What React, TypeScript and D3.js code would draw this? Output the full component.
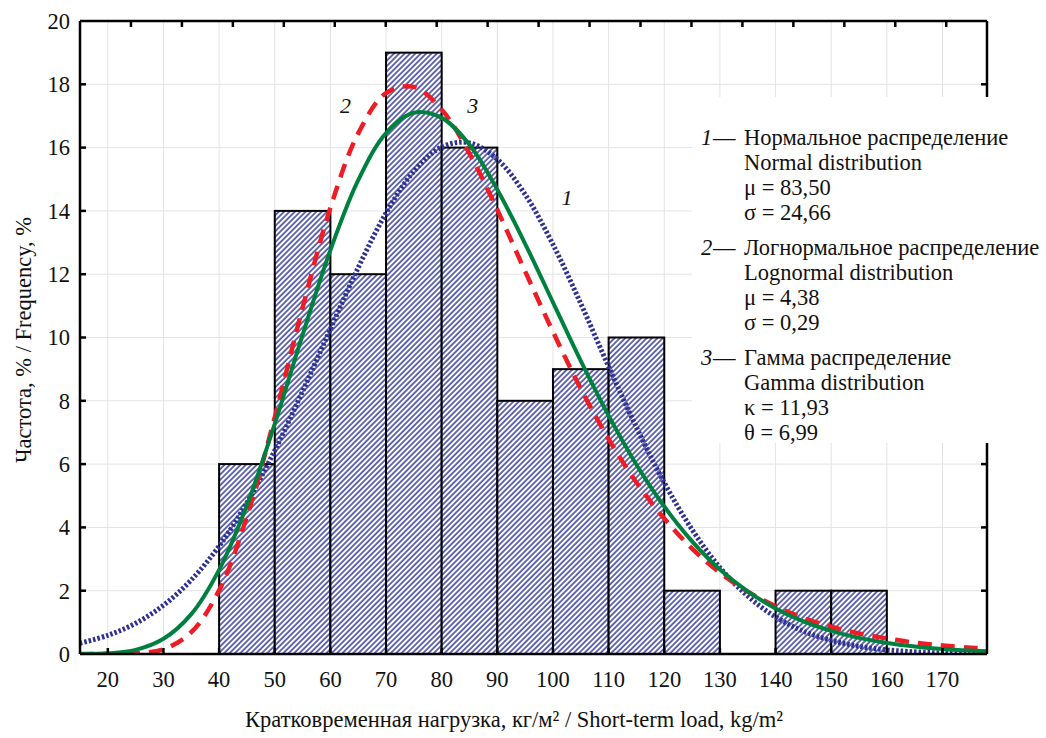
import React, { useEffect, useRef } from "react";
import { select, scaleLinear, line, curveCatmullRom } from "d3";

// histogram bins (% of observations per 10 kg/m2 bin)
const binStarts = [40, 50, 60, 70, 80, 90, 100, 110, 120, 130, 140, 150];
const binWidth = 10;
const frequency = [6, 14, 12, 19, 16, 8, 9, 10, 2, 0, 2, 2];

// fitted curves
const curveX = [
  15, 20, 25, 30, 35, 40, 45, 50, 55, 60, 65, 70, 75, 80, 85, 90, 95, 100, 105,
  110, 115, 120, 125, 130, 135, 140, 145, 150, 155, 160, 165, 170, 175, 178,
];
const normalY = [
  0.34, 0.59, 0.97, 1.54, 2.34, 3.41, 4.78, 6.43, 8.3, 10.27, 12.21, 13.93,
  15.25, 16.02, 16.15, 15.63, 14.52, 12.94, 11.07, 9.08, 7.16, 5.41, 3.93, 2.73,
  1.83, 1.17, 0.72, 0.43, 0.24, 0.13, 0.07, 0.03, 0.02, 0.01,
];
const lognormalY = [
  0, 0.0, 0.02, 0.15, 0.69, 2.01, 4.34, 7.48, 10.94, 14.1, 16.45, 17.72, 17.92,
  17.2, 15.81, 14.03, 12.09, 10.18, 8.38, 6.79, 5.42, 4.28, 3.33, 2.57, 1.97,
  1.51, 1.14, 0.86, 0.65, 0.49, 0.36, 0.27, 0.2, 0.17,
];
const gammaY = [
  0.0, 0.02, 0.13, 0.48, 1.26, 2.66, 4.7, 7.27, 10.08, 12.76, 14.97, 16.46,
  17.1, 16.94, 16.09, 14.67, 12.96, 11.11, 9.26, 7.53, 5.98, 4.66, 3.56, 2.67,
  1.98, 1.44, 1.03, 0.73, 0.51, 0.35, 0.24, 0.16, 0.11, 0.09,
];

const xTicks = [20, 30, 40, 50, 60, 70, 80, 90, 100, 110, 120, 130, 140, 150, 160, 170];
const yTicks = [0, 2, 4, 6, 8, 10, 12, 14, 16, 18, 20];
const topTicks = [10, 20, 30, 40, 50, 60, 70, 80, 90, 100, 110, 120, 130, 140, 150, 160, 170];

const curveLabels = [
  { text: "1", x: 102.5, y: 14.2 },
  { text: "2", x: 62.7, y: 17.1 },
  { text: "3", x: 85.6, y: 17.1 },
];

const legendNums = ["1", "2", "3"];
const legendRu = [
  "Нормальное распределение",
  "Логнормальное распределение",
  "Гамма распределение",
];
const legendEn = ["Normal distribution", "Lognormal distribution", "Gamma distribution"];
const legendParams = [
  ["μ = 83,50", "σ = 24,66"],
  ["μ = 4,38", "σ = 0,29"],
  ["κ = 11,93", "θ = 6,99"],
];

const FONT = "Liberation Serif, Times New Roman, Times, serif";

const App = () => {
  const chartRef = useRef<SVGSVGElement>(null);

  useEffect(() => {
    if (!chartRef.current) return;
    const svg = select(chartRef.current);
    svg.selectAll("*").remove();

    const left = 80;
    const right = 987;
    const top = 21;
    const bottom = 654;

    const x = scaleLinear().domain([15, 178]).range([left, right]);
    const y = scaleLinear().domain([0, 20]).range([bottom, top]);
    // the frame's top ticks follow their own spacing
    const xTop = scaleLinear().domain([0, 178]).range([left, right]);

    const defs = svg.append("defs");
    const pat = defs
      .append("pattern")
      .attr("id", "hatch")
      .attr("patternUnits", "userSpaceOnUse")
      .attr("width", 3.8)
      .attr("height", 3.8)
      .attr("patternTransform", "rotate(45)");
    pat.append("rect").attr("width", 3.8).attr("height", 3.8).attr("fill", "#ffffff");
    pat
      .append("line")
      .attr("x1", 1)
      .attr("x2", 1)
      .attr("y1", 0)
      .attr("y2", 3.8)
      .attr("stroke", "#353a96")
      .attr("stroke-width", 1.5);
    defs
      .append("clipPath")
      .attr("id", "plotClip")
      .append("rect")
      .attr("x", left)
      .attr("y", top)
      .attr("width", right - left)
      .attr("height", bottom - top);

    // grid
    const grid = svg.append("g").attr("stroke", "#e3e3e3").attr("stroke-width", 1);
    grid
      .selectAll("line.gx")
      .data(xTicks)
      .enter()
      .append("line")
      .attr("x1", (d) => x(d))
      .attr("x2", (d) => x(d))
      .attr("y1", top)
      .attr("y2", bottom);
    grid
      .selectAll("line.gy")
      .data(yTicks.slice(1, -1))
      .enter()
      .append("line")
      .attr("x1", left)
      .attr("x2", right)
      .attr("y1", (d) => y(d))
      .attr("y2", (d) => y(d));

    // bars
    svg
      .append("g")
      .selectAll("rect")
      .data(binStarts.filter((_, i) => frequency[i] > 0))
      .enter()
      .append("rect")
      .attr("x", (d) => x(d))
      .attr("y", (d) => y(frequency[binStarts.indexOf(d)]))
      .attr("width", (d) => x(d + binWidth) - x(d))
      .attr("height", (d) => bottom - y(frequency[binStarts.indexOf(d)]))
      .attr("fill", "url(#hatch)")
      .attr("stroke", "#000")
      .attr("stroke-width", 2);

    // curves
    const curves = svg.append("g").attr("clip-path", "url(#plotClip)");
    const mk = (ys: number[]) =>
      line<number>()
        .x((d) => x(d))
        .y((_, i) => y(ys[i]))
        .curve(curveCatmullRom)(curveX);
    curves
      .append("path")
      .attr("d", mk(normalY))
      .attr("fill", "none")
      .attr("stroke", "#2e3192")
      .attr("stroke-width", 5)
      .attr("stroke-dasharray", "2.5,2");
    curves
      .append("path")
      .attr("d", mk(lognormalY))
      .attr("fill", "none")
      .attr("stroke", "#ee1c25")
      .attr("stroke-width", 4.5)
      .attr("stroke-dasharray", "14,9");
    curves
      .append("path")
      .attr("d", mk(gammaY))
      .attr("fill", "none")
      .attr("stroke", "#00803f")
      .attr("stroke-width", 4);

    // legend background hides frame and grid
    svg
      .append("rect")
      .attr("x", 692)
      .attr("y", 97)
      .attr("width", 354)
      .attr("height", 346)
      .attr("fill", "#fff");

    // frame
    const frame = svg.append("g").attr("stroke", "#000").attr("stroke-width", 2.5).attr("fill", "none");
    frame.append("line").attr("x1", left).attr("x2", right).attr("y1", top).attr("y2", top);
    frame.append("line").attr("x1", left).attr("x2", right).attr("y1", bottom).attr("y2", bottom);
    frame.append("line").attr("x1", left).attr("x2", left).attr("y1", top).attr("y2", bottom);
    frame.append("line").attr("x1", right).attr("x2", right).attr("y1", top).attr("y2", 97);
    frame.append("line").attr("x1", right).attr("x2", right).attr("y1", 443).attr("y2", bottom);

    const ticks = svg.append("g").attr("stroke", "#000").attr("stroke-width", 2.5);
    ticks
      .selectAll("line.bt")
      .data(xTicks)
      .enter()
      .append("line")
      .attr("x1", (d) => x(d))
      .attr("x2", (d) => x(d))
      .attr("y1", bottom)
      .attr("y2", bottom - 6);
    ticks
      .selectAll("line.tt")
      .data(topTicks)
      .enter()
      .append("line")
      .attr("x1", (d) => xTop(d))
      .attr("x2", (d) => xTop(d))
      .attr("y1", top)
      .attr("y2", top + 6);
    ticks
      .selectAll("line.lt")
      .data(yTicks.slice(1, -1))
      .enter()
      .append("line")
      .attr("x1", left)
      .attr("x2", left + 6)
      .attr("y1", (d) => y(d))
      .attr("y2", (d) => y(d));
    ticks
      .selectAll("line.rt")
      .data(yTicks.slice(1, -1).filter((d) => y(d) > 443 || y(d) < 97))
      .enter()
      .append("line")
      .attr("x1", right)
      .attr("x2", right - 6)
      .attr("y1", (d) => y(d))
      .attr("y2", (d) => y(d));

    // tick labels
    const labels = svg.append("g").attr("font-family", FONT).attr("font-size", 22.5).attr("fill", "#111");
    labels
      .selectAll("text.xl")
      .data(xTicks)
      .enter()
      .append("text")
      .attr("x", (d) => x(d))
      .attr("y", bottom + 33)
      .attr("text-anchor", "middle")
      .text((d) => d);
    labels
      .selectAll("text.yl")
      .data(yTicks)
      .enter()
      .append("text")
      .attr("x", left - 10)
      .attr("y", (d) => y(d))
      .attr("dy", "0.35em")
      .attr("text-anchor", "end")
      .text((d) => d);

    // axis titles
    svg
      .append("text")
      .attr("x", 514)
      .attr("y", 727)
      .attr("text-anchor", "middle")
      .attr("font-family", FONT)
      .attr("font-size", 22.5)
      .attr("fill", "#111")
      .text("Кратковременная нагрузка, кг/м² / Short-term load, kg/m²");
    svg
      .append("text")
      .attr("transform", `translate(31,340) rotate(-90)`)
      .attr("text-anchor", "middle")
      .attr("font-family", FONT)
      .attr("font-size", 22.5)
      .attr("fill", "#111")
      .text("Частота, % / Frequency, %");

    // curve numbers
    svg
      .append("g")
      .selectAll("text")
      .data(curveLabels)
      .enter()
      .append("text")
      .attr("x", (d) => x(d.x))
      .attr("y", (d) => y(d.y))
      .attr("text-anchor", "middle")
      .attr("font-family", FONT)
      .attr("font-style", "italic")
      .attr("font-size", 22)
      .attr("fill", "#111")
      .text((d) => d.text);

    // legend
    const lg = svg.append("g").attr("font-family", FONT).attr("font-size", 22.5).attr("fill", "#111");
    legendNums.forEach((num, i) => {
      const base = 145 + i * 110;
      lg.append("text").attr("x", 701).attr("y", base).attr("font-style", "italic").text(num);
      lg.append("text").attr("x", 713).attr("y", base).text("—");
      lg.append("text").attr("x", 744).attr("y", base).text(legendRu[i]);
      lg.append("text").attr("x", 744).attr("y", base + 25).text(legendEn[i]);
      legendParams[i].forEach((p, j) => {
        lg.append("text").attr("x", 744).attr("y", base + 50 + j * 25).text(p);
      });
    });
  }, []);

  return (
    <div style={{ position: "absolute", left: 0, top: 0 }}>
      <svg ref={chartRef} width={1046} height={738} style={{ display: "block", background: "#fff" }}></svg>
    </div>
  );
};

export default App;
